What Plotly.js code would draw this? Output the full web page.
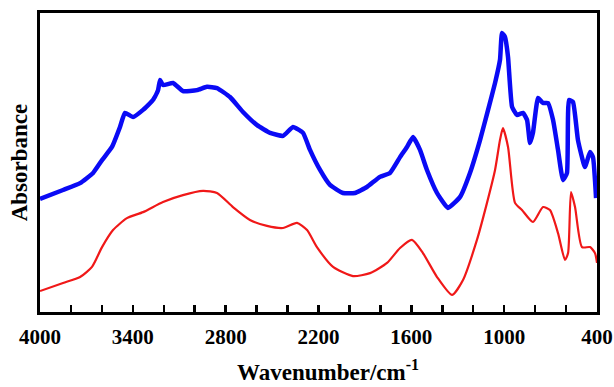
<!DOCTYPE html>
<html>
<head>
<meta charset="utf-8">
<script src="https://cdn.plot.ly/plotly-3.0.1.min.js"></script>
<style>html,body{margin:0;padding:0;background:#fff;}#chart{width:614px;height:387px;}</style>
</head>
<body>
<div id="chart"></div>
<script>
const blueWavenumber = [4000,3851,3741,3657,3599,3535,3483,3451,3399,3334,3270,3237,3224,3205,3140,3076,2985,2921,2856,2772,2688,2597,2513,2429,2365,2300,2255,2190,2126,2042,1964,1887,1803,1738,1673,1628,1589,1544,1499,1434,1363,1285,1221,1156,1104,1059,1027,1014,995,975,949,917,878,852,833,814,781,749,717,684,652,620,594,581,555,523,478,445,426,406];
const blueAbsorbance = [0.378,0.408,0.431,0.465,0.508,0.552,0.619,0.666,0.652,0.676,0.709,0.742,0.776,0.759,0.766,0.739,0.742,0.753,0.749,0.719,0.669,0.625,0.599,0.589,0.619,0.599,0.542,0.475,0.425,0.398,0.398,0.418,0.452,0.465,0.518,0.552,0.585,0.542,0.475,0.398,0.348,0.385,0.465,0.575,0.676,0.766,0.843,0.933,0.920,0.853,0.686,0.659,0.666,0.642,0.565,0.599,0.716,0.699,0.699,0.642,0.542,0.441,0.465,0.709,0.702,0.575,0.485,0.535,0.518,0.381];

const redWavenumber = [4000,3851,3741,3664,3599,3528,3438,3334,3205,3076,2946,2856,2753,2643,2533,2429,2339,2274,2210,2106,1977,1867,1757,1673,1596,1525,1434,1337,1266,1176,1111,1059,1027,1008,975,930,885,814,749,704,652,607,587,568,542,497,445,413,400];
const redAbsorbance = [0.070,0.097,0.117,0.151,0.217,0.274,0.314,0.334,0.368,0.391,0.405,0.398,0.351,0.308,0.288,0.281,0.298,0.274,0.217,0.151,0.120,0.130,0.164,0.214,0.241,0.197,0.117,0.057,0.107,0.241,0.365,0.475,0.575,0.615,0.552,0.365,0.341,0.301,0.351,0.341,0.264,0.174,0.197,0.401,0.351,0.217,0.217,0.197,0.164];

const xTickVals = [4000,3400,2800,2200,1600,1000,400];
const xTickText = ["4000","3400","2800","2200","1600","1000","400"];

const serif = "Liberation Serif, Times New Roman, serif";

const traces = [
  {x: blueWavenumber, y: blueAbsorbance, type: 'scatter', mode: 'lines',
   line: {color: '#0a0af5', width: 4.5, shape: 'spline', smoothing: 0.4}, hoverinfo: 'skip'},
  {x: redWavenumber, y: redAbsorbance, type: 'scatter', mode: 'lines',
   line: {color: '#f01818', width: 2.2, shape: 'spline', smoothing: 0.6}, hoverinfo: 'skip'}
];

const layout = {
  width: 614, height: 387,
  margin: {l: 40, r: 17, t: 13, b: 75},
  paper_bgcolor: '#fff', plot_bgcolor: '#fff',
  showlegend: false,
  xaxis: {
    range: [4000, 400], autorange: false,
    tickvals: xTickVals, ticktext: xTickText,
    ticks: 'inside', ticklen: 7, tickwidth: 2.5, tickcolor: '#000',
    ticklabelstandoff: 4,
    minor: {dtick: 200, tick0: 400, ticks: 'inside', ticklen: 7, tickwidth: 2.5, tickcolor: '#000'},
    showline: true, linewidth: 3, linecolor: '#000', mirror: true,
    showgrid: false, zeroline: false,
    tickfont: {family: serif, size: 21, color: '#000', weight: 'bold'}
  },
  yaxis: {
    range: [0, 1], autorange: false,
    showticklabels: false, ticks: '',
    showline: true, linewidth: 3, linecolor: '#000', mirror: true,
    showgrid: false, zeroline: false,
    title: {text: 'Absorbance', font: {family: serif, size: 23, color: '#000', weight: 'bold'}, standoff: 3}
  },
  annotations: [{
    text: 'Wavenumber/cm<sup>-1</sup>', xref: 'paper', yref: 'paper',
    x: 0.517, y: -0.195, xanchor: 'center', yanchor: 'middle', showarrow: false,
    font: {family: serif, size: 23, color: '#000', weight: 'bold'}
  }]
};

Plotly.newPlot('chart', traces, layout, {staticPlot: true, displayModeBar: false});
</script>
</body>
</html>
